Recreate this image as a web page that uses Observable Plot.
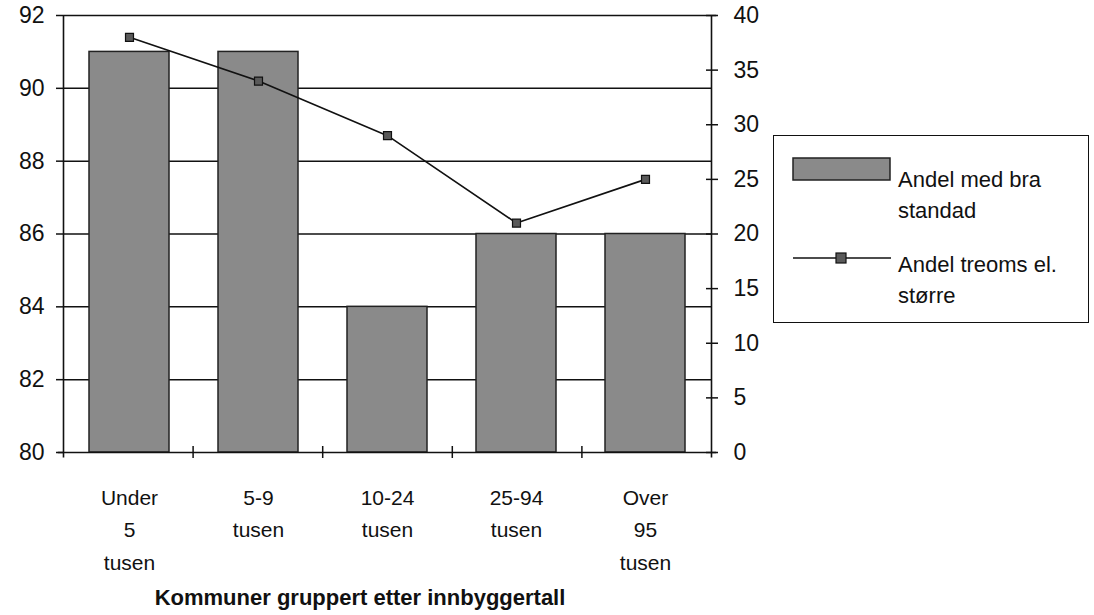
<!DOCTYPE html>
<html>
<head>
<meta charset="utf-8">
<script src="https://cdn.jsdelivr.net/npm/d3@7"></script>
<script src="https://cdn.jsdelivr.net/npm/@observablehq/plot@0.6"></script>
<style>
  html, body { margin: 0; padding: 0; background: #ffffff; }
  #wrap { position: relative; width: 1094px; height: 615px; overflow: hidden; font-family: "Liberation Sans", Arial, sans-serif; color: #111; }
  .layer { position: absolute; left: 0; top: 0; }
  .layer svg { background: transparent !important; }
  #title { position: absolute; left: 110px; width: 500px; top: 585px; text-align: center; font-size: 22px; font-weight: bold; }
  #legend { position: absolute; left: 773px; top: 135px; width: 316px; height: 188px; border: 1.5px solid #111; box-sizing: border-box; }
  .ltext { position: absolute; left: 124px; font-size: 22px; line-height: 31px; }
</style>
</head>
<body>
<div id="wrap">
  <div class="layer" id="pA"></div>
  <div class="layer" id="pB"></div>
  <div class="layer" id="pC"></div>
  <div id="title">Kommuner gruppert etter innbyggertall</div>
  <div id="legend">
    <svg width="316" height="188" style="position:absolute;left:0;top:0">
      <rect x="19" y="22" width="97" height="22" fill="#8a8a8a" stroke="#222" stroke-width="1.5"></rect>
      <line x1="19" y1="122" x2="117" y2="122" stroke="#111" stroke-width="1.5"></line>
      <rect x="62" y="117" width="10" height="10" fill="#5a5a5a" stroke="#111" stroke-width="1.2"></rect>
    </svg>
    <div class="ltext" style="top:28px">Andel med bra<br>standad</div>
    <div class="ltext" style="top:113px">Andel treoms el.<br>større</div>
  </div>
</div>
<script>
// ---- data ----
const categories = ["Under 5 tusen", "5-9 tusen", "10-24 tusen", "25-94 tusen", "Over 95 tusen"];
const tickLabels = ["Under\n5\ntusen", "5-9\ntusen", "10-24\ntusen", "25-94\ntusen", "Over\n95\ntusen"];
const andelBraStandard = [91, 91, 84, 86, 86];      // left axis (%)
const andelTreromsStorre = [38, 34, 29, 21, 25];    // right axis (%)
const leftTicks = [80, 82, 84, 86, 88, 90, 92];
const rightTicks = [0, 5, 10, 15, 20, 25, 30, 35, 40];

const bars = categories.map((c, i) => ({cat: c, value: andelBraStandard[i]}));
const pts = categories.map((c, i) => ({cat: c, value: andelTreromsStorre[i]}));
const labelOf = new Map(categories.map((c, i) => [c, tickLabels[i]]));

const W = 1094, H = 615;
const M = {marginTop: 15, marginBottom: 163, marginLeft: 63, marginRight: 383};
const font = "Liberation Sans, Arial, sans-serif";
const xBand = {domain: categories, paddingInner: 0.38, paddingOuter: 0.19};

// Layer A: grid, bars, left axis, category labels
const A = Plot.plot({
  width: W, height: H, ...M,
  style: {fontFamily: font, background: "transparent", color: "#111"},
  x: {...xBand, axis: null},
  y: {domain: [80, 92], axis: null},
  marks: [
    Plot.ruleY(leftTicks.slice(1, -1), {stroke: "#111", strokeWidth: 1.5}),
    Plot.barY(bars, {x: "cat", y1: 80, y2: "value", fill: "#8a8a8a", stroke: "#222", strokeWidth: 1.5}),
    Plot.axisY({ticks: leftTicks, tickSize: 7, tickPadding: 12, fontSize: 23, stroke: "#111", strokeWidth: 1.5, fill: "#111", label: null}),
    Plot.axisX({tickSize: 0, tickPadding: 29, fontSize: 21, lineHeight: 1.55, fill: "#111", label: null,
      tickFormat: d => labelOf.get(d)})
  ]
});
document.getElementById("pA").appendChild(A);

// Layer B: line series on the right axis
const B = Plot.plot({
  width: W, height: H, ...M,
  style: {fontFamily: font, background: "transparent", color: "#111"},
  x: {...xBand, axis: null},
  y: {domain: [0, 40], axis: null},
  marks: [
    Plot.line(pts, {x: "cat", y: "value", stroke: "#111", strokeWidth: 1.6}),
    Plot.dot(pts, {x: "cat", y: "value", symbol: "square", r: 4.5, fill: "#5a5a5a", stroke: "#111", strokeWidth: 1.2}),
    Plot.axisY({anchor: "right", ticks: rightTicks, tickSize: 12, dx: -6, tickPadding: 16, fontSize: 23,
      stroke: "#111", strokeWidth: 1.5, fill: "#111", textAnchor: "start", label: null})
  ]
});
document.getElementById("pB").appendChild(B);

// Layer C: frame and category boundary ticks
const bounds = d3.range(categories.length + 1);
const C = Plot.plot({
  width: W, height: H, ...M,
  style: {background: "transparent"},
  x: {domain: [0, categories.length], axis: null},
  y: {domain: [0, 40], axis: null},
  marks: [
    Plot.ruleX([0], {y1: -0.5, y2: 40, stroke: "#111", strokeWidth: 1.6}),
    Plot.ruleX([categories.length], {y1: -0.5, y2: 40, stroke: "#111", strokeWidth: 1.6}),
    Plot.ruleY([0], {x1: -0.04, x2: categories.length + 0.04, stroke: "#111", strokeWidth: 1.6}),
    Plot.ruleY([40], {x1: 0, x2: categories.length + 0.04, stroke: "#111", strokeWidth: 1.5}),
    Plot.ruleX(bounds.slice(1, -1), {y1: -0.55, y2: 0.55, stroke: "#111", strokeWidth: 1.5})
  ]
});
document.getElementById("pC").appendChild(C);
</script>
</body>
</html>
